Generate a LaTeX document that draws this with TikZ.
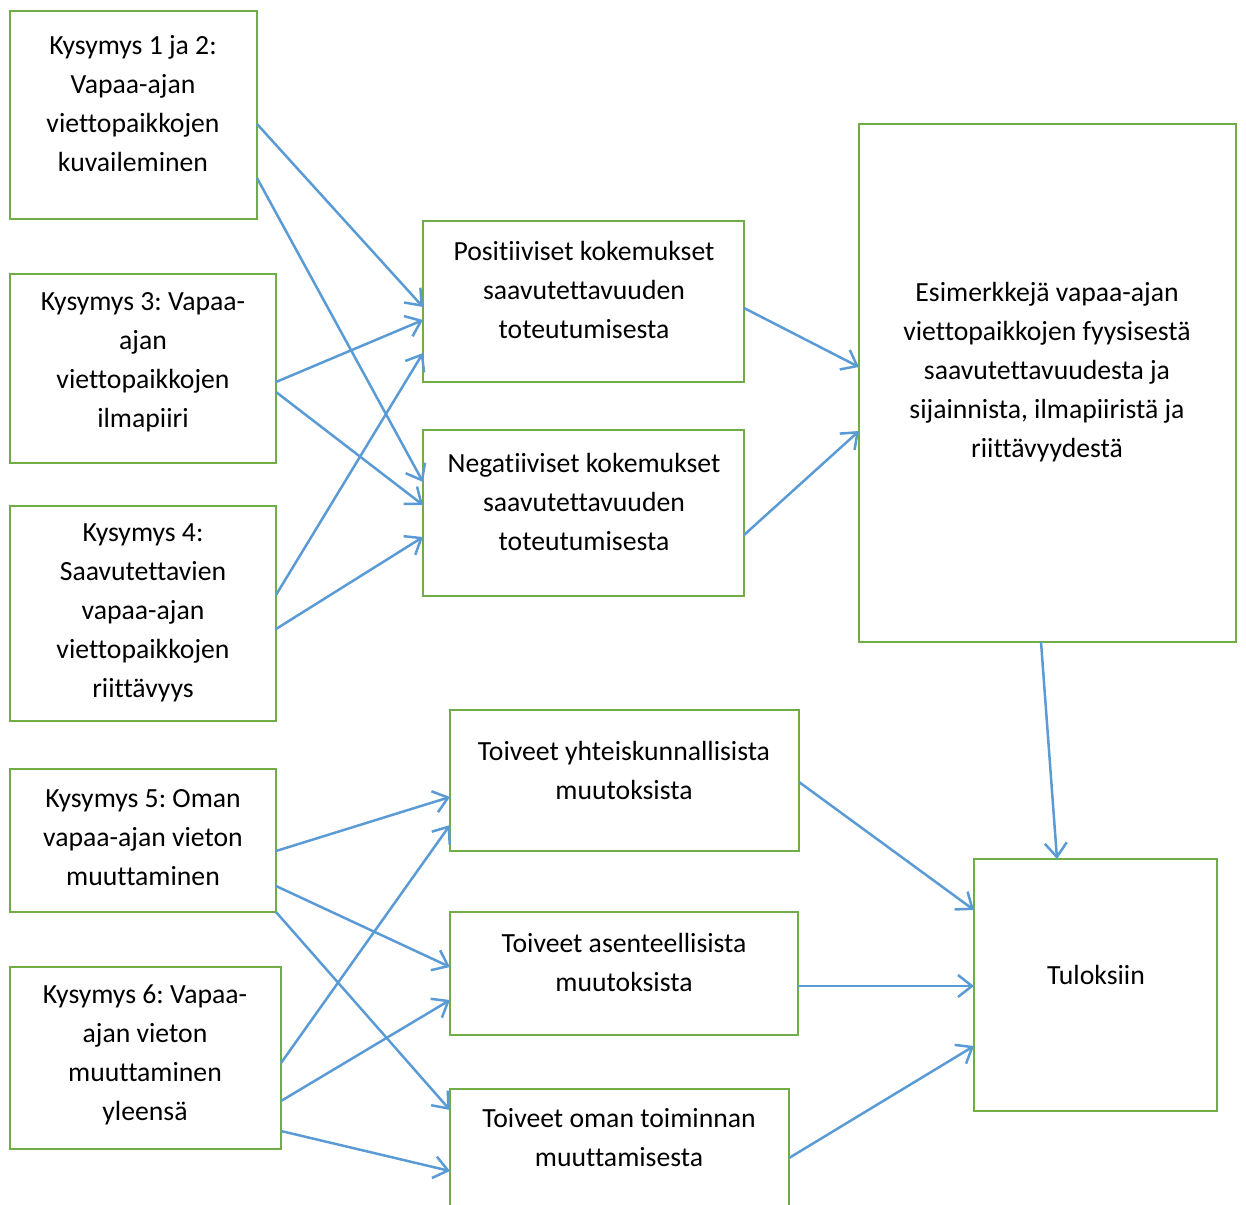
\documentclass[tikz,border=0pt]{standalone}
\usepackage{fontspec}
\setmainfont{Carlito}[Ligatures={NoCommon}]
\usepackage{tikz}
\usetikzlibrary{positioning,arrows.meta}
\definecolor{boxgreen}{RGB}{112,173,71}
\definecolor{arrblue}{RGB}{91,155,213}
\frenchspacing

\begin{document}
\begin{tikzpicture}[
  x=1pt,y=-1pt,
  box/.style={draw=boxgreen,line width=2.8pt,fill=white,inner sep=0pt,outer sep=0pt},
  txt/.style={font=\fontsize{27.7}{39}\selectfont,align=center,inner sep=0pt},
  arr/.style={draw=arrblue,line width=2.5pt,-{Straight Barb[length=14pt,width=22pt]}}
]
\useasboundingbox (0,0) rectangle (1246,1204);
\clip (0,0) rectangle (1246,1204);

% Question boxes (left column)
\node[box,minimum width=247,minimum height=208] (q12) at (133.5,115) {};
\node[box,minimum width=266,minimum height=189] (q3) at (143,368.5) {};
\node[box,minimum width=266,minimum height=215] (q4) at (143,613.5) {};
\node[box,minimum width=266,minimum height=143] (q5) at (143,840.5) {};
\node[box,minimum width=271,minimum height=182] (q6) at (145.5,1058) {};

% Experiences and wishes (middle column)
\node[box,minimum width=321,minimum height=161] (pos) at (583.5,301.5) {};
\node[box,minimum width=321,minimum height=166] (neg) at (583.5,513) {};
\node[box,minimum width=349,minimum height=141] (yht) at (624.5,780.5) {};
\node[box,minimum width=348,minimum height=123] (asen) at (624,973.5) {};
\node[box,minimum width=339,minimum height=136] (oman) at (619.5,1157) {};

% Right column
\node[box,minimum width=377,minimum height=518] (esim) at (1047.5,383) {};
\node[box,minimum width=243,minimum height=252] (tulos) at (1095.5,985) {};

% Texts
\node[txt] (q12t) at (133,104) {Kysymys 1 ja 2:\\Vapaa-ajan\\viettopaikkojen\\kuvaileminen};
\node[txt] (q3t) at (143,362) {Kysymys 3: Vapaa-\\ajan\\viettopaikkojen\\ilmapiiri};
\node[txt] (q4t) at (143,613) {Kysymys 4:\\Saavutettavien\\vapaa-ajan\\viettopaikkojen\\riittävyys};
\node[txt] (q5t) at (143,838) {Kysymys 5: Oman\\vapaa-ajan vieton\\muuttaminen};
\node[txt] (q6t) at (145,1055) {Kysymys 6: Vapaa-\\ajan vieton\\muuttaminen\\yleensä};
\node[txt] (post) at (584,290) {Positiiviset kokemukset\\saavutettavuuden\\toteutumisesta};
\node[txt] (negt) at (584,502) {Negatiiviset kokemukset\\saavutettavuuden\\toteutumisesta};
\node[txt] (yhtt) at (624,770) {Toiveet yhteiskunnallisista\\muutoksista};
\node[txt] (asent) at (624,962) {Toiveet asenteellisista\\muutoksista};
\node[txt] (omant) at (619,1138) {Toiveet oman toiminnan\\muuttamisesta};
\node[txt] (esimt) at (1047,372) {Esimerkkejä vapaa-ajan\\viettopaikkojen fyysisestä\\saavutettavuudesta ja\\sijainnista, ilmapiiristä ja\\riittävyydestä};
\node[txt] (tulost) at (1096,975) {Tuloksiin};

% Arrows: source/shift/target/shift
\foreach \a/\ay/\b/\by in {q12/-9/pos/-5.5, q12/-63/neg/31,
    q3/-13.5/pos/-18.5, q3/-23.5/neg/8,
    q4/18.5/pos/-51.5, q4/-15.5/neg/-24,
    pos/-6.5/esim/16, neg/-22/esim/-48,
    q5/-10.5/yht/-16.5, q5/-45.5/asen/6.5, q5/-71.5/oman/47,
    q6/-5/yht/-44.5, q6/-43/asen/-26.5, q6/-73/oman/-14,
    yht/-1.5/tulos/75, asen/-12.5/tulos/-1, oman/-1/tulos/-61} {
  \draw[arr] ([yshift=\ay]\a.east) -- ([yshift=\by]\b.west);
}
\draw[arr] ([xshift=-6.5]esim.south) -- ([xshift=-38.5]tulos.north);

\end{tikzpicture}
\end{document}
